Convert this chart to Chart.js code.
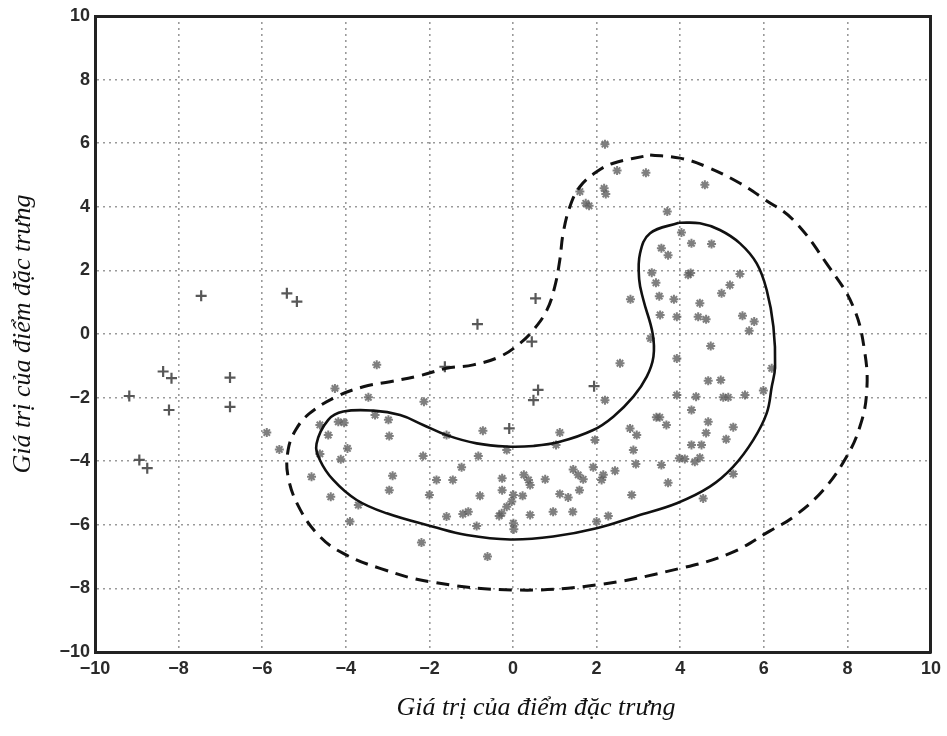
<!DOCTYPE html>
<html>
<head>
<meta charset="utf-8">
<title>Giá trị của điểm đặc trưng</title>
<script src="https://cdn.jsdelivr.net/npm/chart.js@4.4.0/dist/chart.umd.min.js"></script>
<style>
  html, body { margin: 0; padding: 0; background: #fff; }
  #wrap { width: 947px; height: 736px; }
</style>
</head>
<body>
<div id="wrap"><canvas id="myChart" width="947" height="736"></canvas></div>
<script>
// axis settings
var axisMin = -10;
var axisMax = 10;
var axisStep = 2;
var axisTitle = 'Giá trị của điểm đặc trưng';

// class 1 samples (asterisks)
var starPoints = [
    [2.20, 5.97], [2.49, 5.14], [3.18, 5.07], [2.18, 4.58], [2.22, 4.40], [1.60, 4.48], [1.74, 4.11], [1.82, 4.03],
    [4.59, 4.69], [3.69, 3.85], [4.03, 3.19], [4.27, 2.85], [4.75, 2.83], [3.55, 2.70], [3.71, 2.48], [3.32, 1.93],
    [4.19, 1.86], [4.25, 1.92], [5.43, 1.89], [3.42, 1.61], [5.19, 1.54], [4.99, 1.28], [2.81, 1.09], [3.50, 1.19],
    [3.85, 1.09], [4.47, 0.97], [3.52, 0.60], [3.92, 0.54], [4.43, 0.54], [4.62, 0.46], [5.49, 0.57], [5.77, 0.39],
    [5.65, 0.10], [3.29, -0.14], [4.73, -0.38], [3.92, -0.77], [2.56, -0.92], [6.19, -1.08], [4.67, -1.47], [4.97, -1.45],
    [5.99, -1.78], [3.92, -1.92], [4.38, -1.97], [5.03, -1.99], [5.15, -1.99], [5.55, -1.92], [2.20, -2.08], [4.27, -2.39],
    [3.43, -2.62], [3.51, -2.62], [3.67, -2.86], [4.67, -2.76], [2.80, -2.97], [2.96, -3.18], [4.62, -3.11], [5.27, -2.93],
    [5.10, -3.31], [4.27, -3.49], [4.51, -3.49], [2.88, -3.65], [3.98, -3.91], [4.11, -3.93], [4.35, -4.02], [4.47, -3.89],
    [2.94, -4.09], [3.55, -4.12], [2.44, -4.30], [2.16, -4.43], [5.27, -4.40], [3.71, -4.68], [2.12, -4.59], [2.84, -5.06],
    [4.55, -5.17], [2.28, -5.72],
    [-4.26, -1.71], [-3.46, -1.99], [-2.13, -2.13], [-4.62, -2.86], [-4.18, -2.76], [-4.04, -2.79], [-2.98, -2.70], [-2.96, -3.21],
    [-0.72, -3.04], [-1.59, -3.18], [1.12, -3.10], [1.03, -3.49], [1.96, -3.33], [-3.96, -3.60], [-4.62, -3.77], [-4.12, -3.94],
    [-2.15, -3.84], [-0.83, -3.84], [-0.15, -3.65], [-1.23, -4.19], [1.92, -4.19], [1.44, -4.26], [1.56, -4.43], [1.68, -4.57],
    [-4.82, -4.49], [-2.88, -4.46], [-1.83, -4.59], [-1.44, -4.59], [-0.26, -4.54], [0.26, -4.43], [0.37, -4.59], [0.41, -4.75],
    [0.77, -4.57], [-2.96, -4.91], [-0.26, -4.91], [0.01, -5.06], [0.23, -5.09], [1.12, -5.03], [1.32, -5.14], [1.59, -4.91],
    [-4.36, -5.12], [-2.00, -5.06], [-0.79, -5.09], [-0.03, -5.27], [-0.15, -5.43], [-0.27, -5.64], [-0.33, -5.72], [-3.70, -5.38],
    [-1.07, -5.59], [-1.20, -5.66], [-1.59, -5.74], [0.41, -5.69], [0.96, -5.59], [1.43, -5.59], [-3.90, -5.90], [-0.87, -6.04],
    [0.01, -5.95], [0.02, -6.14], [2.00, -5.90], [-2.19, -6.56], [-0.61, -7.00],
    [-3.26, -0.97], [-5.89, -3.10], [-5.59, -3.63], [-4.42, -3.18], [-3.30, -2.55]
];

// class 2 samples (plus signs)
var plusPoints = [
    [-7.46, 1.20], [-5.41, 1.28], [-5.17, 1.02], [-8.37, -1.18], [-8.17, -1.39], [-6.77, -1.37], [-9.18, -1.95],
    [-8.23, -2.39], [-6.77, -2.29], [-8.94, -3.96], [-8.75, -4.22], [0.54, 1.12], [-0.85, 0.31], [0.45, -0.24],
    [-1.63, -1.03], [0.60, -1.76], [0.49, -2.08], [1.94, -1.64], [-0.09, -2.97]
];

// inner boundary (solid)
var innerCurve = [
    [3.97, 3.50], [4.47, 3.48], [4.95, 3.27], [5.43, 2.85], [5.83, 2.22], [6.07, 1.38], [6.23, 0.23], [6.27, -1.03],
    [6.19, -1.66], [6.07, -2.49], [5.75, -3.33], [5.27, -4.17], [4.71, -4.80], [3.92, -5.32], [2.96, -5.72], [2.00, -6.11],
    [0.96, -6.37], [-0.07, -6.46], [-1.11, -6.32], [-1.91, -6.06], [-3.02, -5.64], [-3.74, -5.22], [-4.30, -4.59], [-4.62, -3.96],
    [-4.70, -3.45], [-4.42, -2.70], [-4.06, -2.44], [-3.34, -2.41], [-2.70, -2.55], [-2.15, -2.86], [-1.59, -3.18], [-0.87, -3.44],
    [-0.15, -3.54], [0.49, -3.52], [1.12, -3.39], [1.92, -3.02], [2.40, -2.60], [2.88, -1.97], [3.20, -1.34], [3.36, -0.71],
    [3.34, 0.02], [3.12, 1.07], [3.02, 1.70], [3.04, 2.54], [3.28, 3.17], [3.97, 3.50]
];

// outer boundary (dashed)
var outerCurve = [
    [3.28, 5.63], [4.00, 5.53], [4.63, 5.26], [5.43, 4.74], [6.00, 4.25], [6.71, 3.58], [7.50, 2.22], [8.14, 0.86],
    [8.42, -0.61], [8.46, -1.86], [8.30, -2.91], [7.98, -3.86], [7.42, -4.91], [6.71, -5.75], [6.15, -6.19], [5.19, -6.90],
    [4.00, -7.37], [2.00, -7.89], [0.01, -8.05], [-1.99, -7.79], [-3.18, -7.37], [-4.06, -6.90], [-4.62, -6.37], [-5.10, -5.50],
    [-5.38, -4.49], [-5.38, -3.65], [-5.20, -3.02], [-4.86, -2.49], [-4.22, -1.97], [-3.58, -1.66], [-2.94, -1.50], [-2.20, -1.30],
    [-1.59, -1.08], [-0.95, -0.97], [-0.31, -0.71], [0.17, -0.29], [0.49, 0.13], [0.81, 0.75], [1.00, 1.49], [1.12, 2.33],
    [1.20, 3.17], [1.36, 4.00], [1.60, 4.63], [2.00, 5.10], [2.40, 5.37], [3.28, 5.63]
];

function toXY(list) {
    return list.map(function (p) { return { x: p[0], y: p[1] }; });
}

function tickLabel(v) {
    return String(v).replace('-', '\u2212');
}

// axis titles drawn where the reference puts them
var titlePlugin = {
    id: 'axisTitles',
    afterDraw: function (chart) {
        let ctx = chart.ctx;
        let area = chart.chartArea;
        ctx.save();
        ctx.fillStyle = '#111';
        ctx.font = 'italic 26px "Liberation Serif", "DejaVu Serif", serif';
        ctx.textAlign = 'center';
        ctx.textBaseline = 'alphabetic';
        ctx.fillText(axisTitle, (area.left + area.right) / 2 + 23, 715);
        ctx.translate(30, (area.top + area.bottom) / 2);
        ctx.rotate(-Math.PI / 2);
        ctx.fillText(axisTitle, 0, 0);
        ctx.restore();
    }
};

var tickFont = { family: '"Liberation Sans", Arial, sans-serif', size: 18, weight: 'bold' };

function createChart(canvasId) {
    let ctx = document.getElementById(canvasId).getContext('2d');
    return new Chart(ctx, {
        type: 'scatter',
        data: {
            datasets: [
                {
                    label: 'inner',
                    data: toXY(innerCurve),
                    showLine: true,
                    borderColor: '#111',
                    borderWidth: 2.6,
                    tension: 0.4,
                    pointRadius: 0,
                    fill: false
                },
                {
                    label: 'outer',
                    data: toXY(outerCurve),
                    showLine: true,
                    borderColor: '#111',
                    borderWidth: 3,
                    borderDash: [13, 8],
                    tension: 0.4,
                    pointRadius: 0,
                    fill: false
                },
                {
                    label: 'class 1',
                    data: toXY(starPoints),
                    pointStyle: 'star',
                    pointRadius: 4.5,
                    borderWidth: 2,
                    borderColor: 'rgba(95,95,95,0.8)',
                    backgroundColor: 'rgba(95,95,95,0.8)'
                },
                {
                    label: 'class 2',
                    data: toXY(plusPoints),
                    pointStyle: 'cross',
                    pointRadius: 5.5,
                    borderWidth: 2.2,
                    borderColor: 'rgba(70,70,70,0.9)',
                    backgroundColor: 'rgba(70,70,70,0.9)'
                }
            ]
        },
        options: {
            responsive: false,
            animation: false,
            layout: { padding: { left: 0, top: 16, right: 16, bottom: 0 } },
            plugins: {
                legend: { display: false },
                tooltip: { enabled: false }
            },
            scales: {
                x: {
                    type: 'linear',
                    min: axisMin,
                    max: axisMax,
                    afterFit: function (scale) { scale.height = 84; },
                    ticks: { stepSize: axisStep, padding: 6, color: '#2a2a2a', font: tickFont, callback: tickLabel, maxRotation: 0 },
                    grid: { color: '#9a9a9a', lineWidth: 1.6, drawTicks: false },
                    border: { display: true, color: '#222', width: 3, dash: [2, 4] }
                },
                y: {
                    type: 'linear',
                    min: axisMin,
                    max: axisMax,
                    afterFit: function (scale) { scale.width = 95; },
                    ticks: { stepSize: axisStep, padding: 5, color: '#2a2a2a', font: tickFont, callback: tickLabel },
                    grid: { color: '#9a9a9a', lineWidth: 1.6, drawTicks: false },
                    border: { display: true, color: '#222', width: 3, dash: [2, 4] }
                },
                xTop: {
                    type: 'linear',
                    position: 'top',
                    min: axisMin,
                    max: axisMax,
                    afterFit: function (scale) { scale.height = 0; },
                    ticks: { display: false },
                    grid: { display: false, drawTicks: false },
                    border: { display: true, color: '#222', width: 3 }
                },
                yRight: {
                    type: 'linear',
                    position: 'right',
                    min: axisMin,
                    max: axisMax,
                    afterFit: function (scale) { scale.width = 0; },
                    ticks: { display: false },
                    grid: { display: false, drawTicks: false },
                    border: { display: true, color: '#222', width: 3 }
                }
            }
        },
        plugins: [titlePlugin]
    });
}

var chart = createChart('myChart');
</script>
</body>
</html>
